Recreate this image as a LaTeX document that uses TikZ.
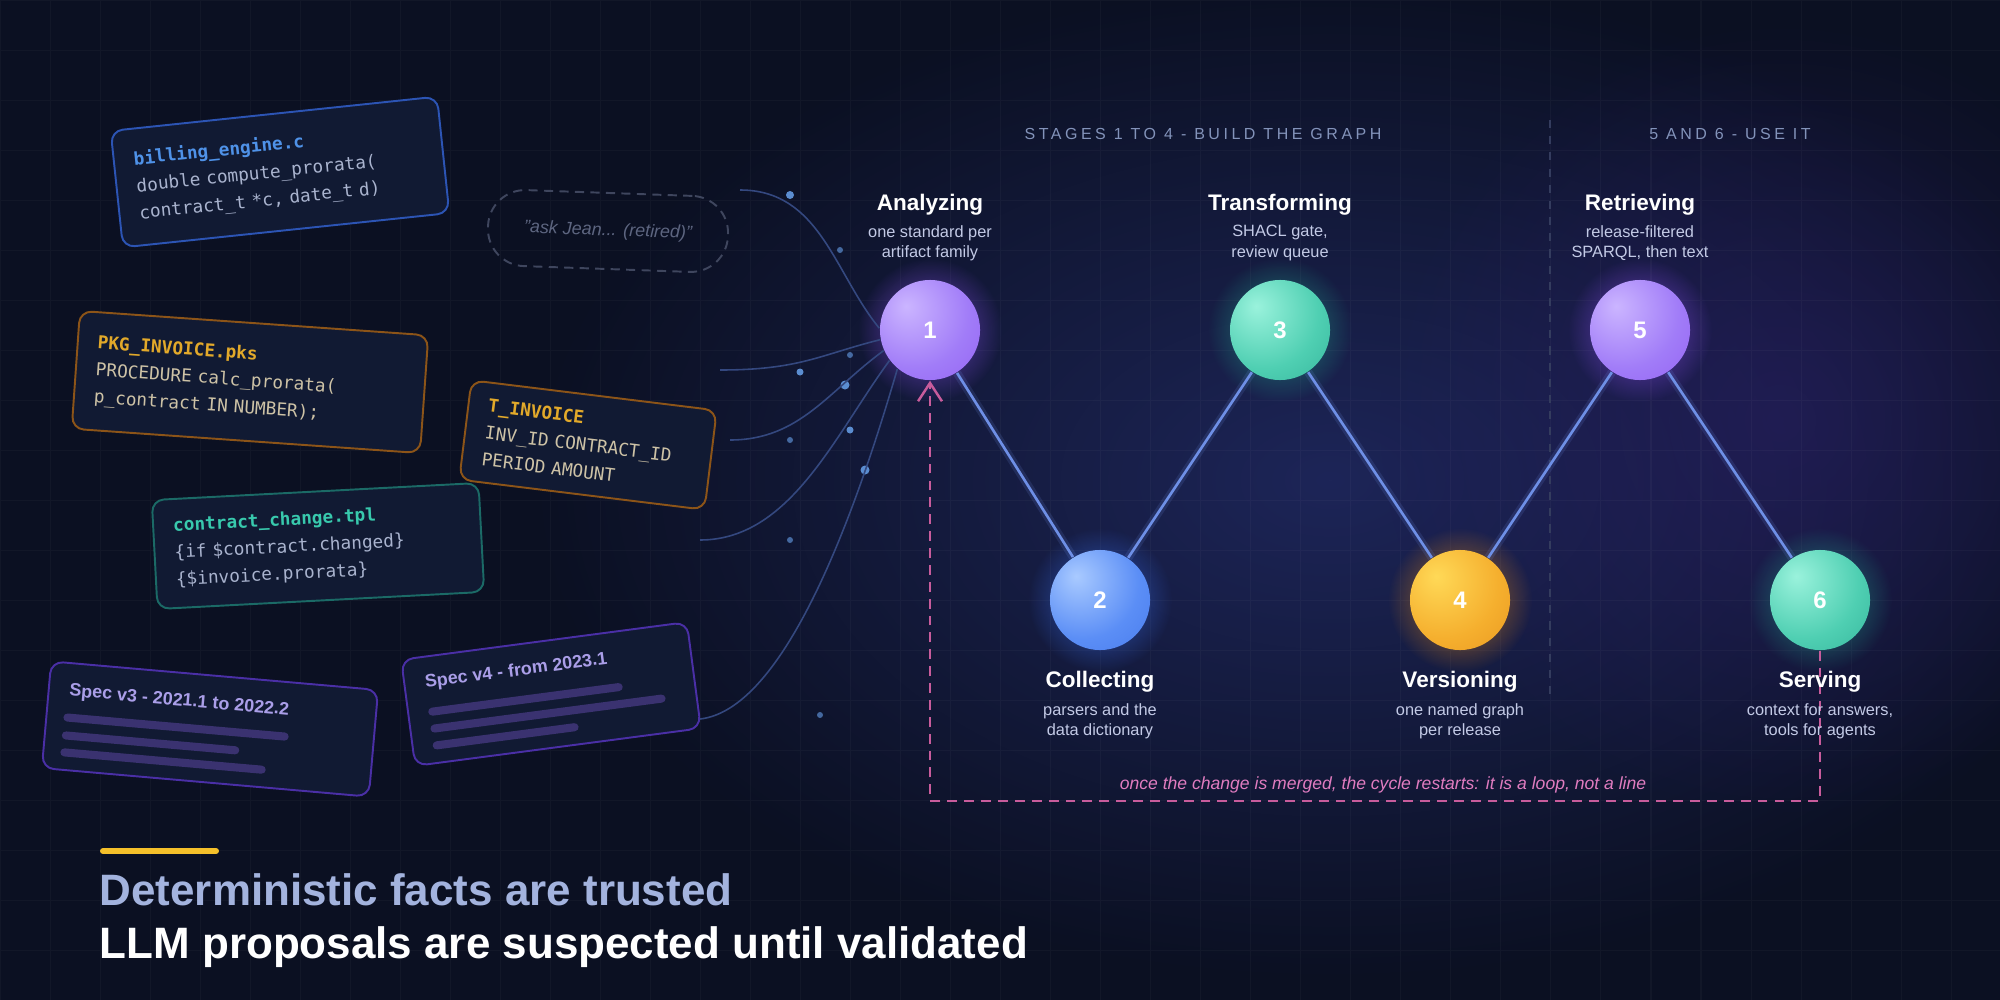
\documentclass[tikz,border=0pt]{standalone}
\usepackage{fontspec}
\setmainfont{Liberation Sans}
\setmonofont{DejaVu Sans Mono}
\usetikzlibrary{arrows.meta,fadings,positioning}

\definecolor{bgbase}{HTML}{0B1022}
\definecolor{bgglow}{HTML}{1D2558}
\definecolor{bgviolet}{HTML}{2B2068}
\definecolor{cardfill}{HTML}{111A33}
\definecolor{edgeblue}{HTML}{2C54B4}
\definecolor{edgeamber}{HTML}{8C5418}
\definecolor{edgeteal}{HTML}{1B6A66}
\definecolor{specedge}{HTML}{4A2FA6}
\definecolor{titleblue}{HTML}{4F92E8}
\definecolor{titlegold}{HTML}{E2A92A}
\definecolor{titleteal}{HTML}{38C9AD}
\definecolor{codegray}{HTML}{A9B3CE}
\definecolor{codebeige}{HTML}{CDC2A6}
\definecolor{spectext}{HTML}{AA9EE8}
\definecolor{specbarcol}{HTML}{3A3270}
\definecolor{ghostcol}{HTML}{3F465E}
\definecolor{ghosttext}{HTML}{5D6580}
\definecolor{feedcol}{HTML}{34487F}
\definecolor{speckcol}{HTML}{5B8DD0}
\definecolor{zigcol}{HTML}{6E8FE6}
\definecolor{loopcol}{HTML}{C85C9C}
\definecolor{looptextcol}{HTML}{E07CC0}
\definecolor{dividercol}{HTML}{343C5E}
\definecolor{phasetext}{HTML}{8393BA}
\definecolor{subtext}{HTML}{C3CAE6}
\definecolor{claimblue}{HTML}{A3B3DE}
\definecolor{accentcol}{HTML}{F5C02A}
% ball colours
\definecolor{purpleA}{HTML}{CBB5FF}
\definecolor{purpleB}{HTML}{A17CF8}
\definecolor{purpleC}{HTML}{8A4FEE}
\definecolor{blueA}{HTML}{A9CAFF}
\definecolor{blueB}{HTML}{5B8EF6}
\definecolor{blueC}{HTML}{386BE6}
\definecolor{tealA}{HTML}{9AF2DC}
\definecolor{tealB}{HTML}{4FCFB2}
\definecolor{tealC}{HTML}{22A18B}
\definecolor{amberA}{HTML}{FFD957}
\definecolor{amberB}{HTML}{F5AF2E}
\definecolor{amberC}{HTML}{E08616}

\pgfdeclareradialshading{purpleball}{\pgfpoint{-12bp}{12bp}}{color(0bp)=(purpleA); color(28bp)=(purpleB); color(62bp)=(purpleC); color(100bp)=(purpleC)}
\pgfdeclareradialshading{blueball}{\pgfpoint{-12bp}{12bp}}{color(0bp)=(blueA); color(28bp)=(blueB); color(62bp)=(blueC); color(100bp)=(blueC)}
\pgfdeclareradialshading{tealball}{\pgfpoint{-12bp}{12bp}}{color(0bp)=(tealA); color(28bp)=(tealB); color(62bp)=(tealC); color(100bp)=(tealC)}
\pgfdeclareradialshading{amberball}{\pgfpoint{-12bp}{12bp}}{color(0bp)=(amberA); color(28bp)=(amberB); color(62bp)=(amberC); color(100bp)=(amberC)}

\tikzfading[name=softglow, inner color=transparent!0, outer color=transparent!100]

\begin{document}
\begin{tikzpicture}[
    x=0.01cm, y=-0.01cm,
    stage/.style={circle, minimum size=1cm, inner sep=0pt, text=white, font=\bfseries\fontsize{6.8}{8}\selectfont},
    stagetitle/.style={text=white, font=\bfseries\fontsize{6.4}{7.7}\selectfont, inner sep=0pt},
    stagesub/.style={text=subtext, align=center, font=\fontsize{4.65}{5.7}\selectfont, inner sep=0pt},
    phase/.style={text=phasetext, font=\fontsize{4.55}{6}\selectfont\addfontfeature{LetterSpace=22}, inner sep=0pt},
    codecard/.style={rounded corners=0.12cm, fill=cardfill, line width=0.55pt, inner xsep=0.2cm, inner ysep=0.1cm, align=left, font=\ttfamily\fontsize{5.05}{7.7}\selectfont},
    speccard/.style={rounded corners=0.12cm, fill=cardfill, draw=specedge, line width=0.55pt, minimum height=1.07cm},
    spectitle/.style={text=spectext, font=\bfseries\fontsize{5.1}{6}\selectfont, inner sep=0pt, anchor=west},
    specbar/.style={draw=specbarcol, line width=2.3pt, line cap=round},
    ghost/.style={draw=ghostcol, line width=0.55pt, dash pattern=on 2.6pt off 1.8pt, rounded corners=0.37cm, minimum width=2.4cm, minimum height=0.76cm, text=ghosttext, font=\itshape\fontsize{5.1}{6}\selectfont},
    feed/.style={draw=feedcol, line width=0.45pt},
    speck/.style={fill=speckcol},
    zig/.style={draw=zigcol, line width=0.75pt, preaction={draw=zigcol, line width=2.4pt, opacity=0.15}},
    loopline/.style={draw=loopcol, line width=0.7pt, dash pattern=on 2.8pt off 2pt, -{Straight Barb[length=5.2pt,width=6.8pt]}},
    looptext/.style={text=looptextcol, font=\itshape\fontsize{5}{6}\selectfont, inner sep=0pt},
    divider/.style={draw=dividercol, line width=0.45pt, dash pattern=on 2.3pt off 2.3pt},
    claim/.style={font=\bfseries\fontsize{12.5}{15}\selectfont, inner sep=0pt, anchor=base west},
    accent/.style={draw=accentcol, line width=1.7pt, line cap=round}
]

% background
\useasboundingbox (0,0) rectangle (2000,1000);
\fill[bgbase] (0,0) rectangle (2000,1000);
\fill[bgglow, path fading=softglow] (1330,480) ellipse (8cm and 5cm);
\fill[bgviolet, path fading=softglow, opacity=0.55] (1780,420) ellipse (4cm and 4cm);
\draw[white, opacity=0.03, line width=0.3pt] (0,0) grid[step=0.5cm] (2000,1000);

% phase headers
\node[phase] (build) at (1203,134) {STAGES 1 TO 4 - BUILD THE GRAPH};
\node[phase] (use) at (1730,134) {5 AND 6 - USE IT};
\draw[divider] (1550,120) -- (1550,700);

% source artifacts
\node[codecard, draw=edgeblue, text=codegray, text width=2.88cm, minimum height=1.17cm, rotate=6] (billing) at (280,172)
    {\textcolor{titleblue}{\bfseries billing\_engine.c}\\double compute\_prorata(\\contract\_t *c, date\_t d)};
\node[codecard, draw=edgeamber, text=codebeige, text width=3.09cm, minimum height=1.18cm, rotate=-4] (package) at (250,382)
    {\textcolor{titlegold}{\bfseries PKG\_INVOICE.pks}\\PROCEDURE calc\_prorata(\\p\_contract IN NUMBER);};
\node[codecard, draw=edgeamber, text=codebeige, text width=2.07cm, minimum height=1.0cm, rotate=-7] (table) at (588,445)
    {\textcolor{titlegold}{\bfseries T\_INVOICE}\\INV\_ID CONTRACT\_ID\\PERIOD AMOUNT};
\node[codecard, draw=edgeteal, text=codegray, text width=2.87cm, minimum height=1.09cm, rotate=3] (template) at (318,546)
    {\textcolor{titleteal}{\bfseries contract\_change.tpl}\\\{if \$contract.changed\}\\\{\$invoice.prorata\}};
\node[ghost, rotate=-2] (hearsay) at (608,231) {"ask Jean... (retired)"};

\begin{scope}[shift={(210,729)}, rotate=-5, transform shape]
    \node[speccard, minimum width=3.28cm] (specv3) at (0,0) {};
    \node[spectitle] (specv3title) at (-144,-25) {Spec v3 - 2021.1 to 2022.2};
    \draw[specbar] (-143,1) -- (75,1);
    \draw[specbar] (-143,19) -- (27,19);
    \draw[specbar] (-143,36) -- (55,36);
\end{scope}
\begin{scope}[shift={(551,694)}, rotate=7.5, transform shape]
    \node[speccard, minimum width=2.88cm] (specv4) at (0,0) {};
    \node[spectitle] (specv4title) at (-124,-27) {Spec v4 - from 2023.1};
    \draw[specbar] (-120,2) -- (68,2);
    \draw[specbar] (-120,19) -- (109,19);
    \draw[specbar] (-120,36) -- (19,36);
\end{scope}

% stage positions
\coordinate (p1) at (930,330);
\coordinate (p2) at (1100,600);
\coordinate (p3) at (1280,330);
\coordinate (p4) at (1460,600);
\coordinate (p5) at (1640,330);
\coordinate (p6) at (1820,600);

% specks
\fill[speck] (790,195) circle (0.04cm);
\fill[speck, opacity=0.7] (840,250) circle (0.03cm);
\fill[speck, opacity=0.7] (850,355) circle (0.03cm);
\fill[speck] (800,372) circle (0.035cm);
\fill[speck] (845,385) circle (0.045cm);
\fill[speck, opacity=0.7] (790,440) circle (0.03cm);
\fill[speck] (850,430) circle (0.035cm);
\fill[speck] (865,470) circle (0.045cm);
\fill[speck, opacity=0.7] (790,540) circle (0.03cm);
\fill[speck, opacity=0.7] (820,715) circle (0.03cm);

% halos
\fill[purpleC, path fading=softglow, opacity=0.75] (p1) circle (0.72cm);
\fill[blueC, path fading=softglow, opacity=0.75] (p2) circle (0.72cm);
\fill[tealC, path fading=softglow, opacity=0.75] (p3) circle (0.72cm);
\fill[amberC, path fading=softglow, opacity=0.75] (p4) circle (0.72cm);
\fill[purpleC, path fading=softglow, opacity=0.75] (p5) circle (0.72cm);
\fill[tealC, path fading=softglow, opacity=0.75] (p6) circle (0.72cm);

% stages
\node[stage, shading=purpleball] (s1) at (p1) {1};
\node[stage, shading=blueball] (s2) at (p2) {2};
\node[stage, shading=tealball] (s3) at (p3) {3};
\node[stage, shading=amberball] (s4) at (p4) {4};
\node[stage, shading=purpleball] (s5) at (p5) {5};
\node[stage, shading=tealball] (s6) at (p6) {6};

% feeds into stage 1
\coordinate (feed1) at (740,190);
\coordinate (feed2) at (720,370);
\coordinate (feed3) at (730,440);
\coordinate (feed4) at (700,540);
\coordinate (feed5) at (700,719);
\draw[feed] (feed1) .. controls +(80,0) and +(-45,-55) .. (s1.178);
\draw[feed] (feed2) .. controls +(80,0) and +(-60,15) .. (s1.191);
\draw[feed] (feed3) .. controls +(70,0) and +(-55,40) .. (s1.204);
\draw[feed] (feed4) .. controls +(90,0) and +(-55,75) .. (s1.217);
\draw[feed] (feed5) .. controls +(90,-10) and +(-35,120) .. (s1.230);

\draw[zig] (s1) -- (s2);
\draw[zig] (s2) -- (s3);
\draw[zig] (s3) -- (s4);
\draw[zig] (s4) -- (s5);
\draw[zig] (s5) -- (s6);

% loop back
\draw[loopline] (s6.south) -- ++(0,150) -| (s1.south);
\node[looptext] (loopnote) at (1383,785) {once the change is merged, the cycle restarts: it is a loop, not a line};

% stage labels
\node[stagetitle] (t1) at (930,205) {Analyzing};
\node[stagesub] (d1) at (930,243) {one standard per\\artifact family};
\node[stagetitle] (t3) at (1280,205) {Transforming};
\node[stagesub] (d3) at (1280,243) {SHACL gate,\\review queue};
\node[stagetitle] (t5) at (1640,205) {Retrieving};
\node[stagesub] (d5) at (1640,243) {release-filtered\\SPARQL, then text};
\node[stagetitle] (t2) at (1100,682) {Collecting};
\node[stagesub] (d2) at (1100,721) {parsers and the\\data dictionary};
\node[stagetitle] (t4) at (1460,682) {Versioning};
\node[stagesub] (d4) at (1460,721) {one named graph\\per release};
\node[stagetitle] (t6) at (1820,682) {Serving};
\node[stagesub] (d6) at (1820,721) {context for answers,\\tools for agents};

% takeaway
\draw[accent] (103,851) -- (216,851);
\node[claim, text=claimblue] (trusted) at (99,905) {Deterministic facts are trusted};
\node[claim, text=white] (suspected) at (99,958) {LLM proposals are suspected until validated};

\end{tikzpicture}
\end{document}
